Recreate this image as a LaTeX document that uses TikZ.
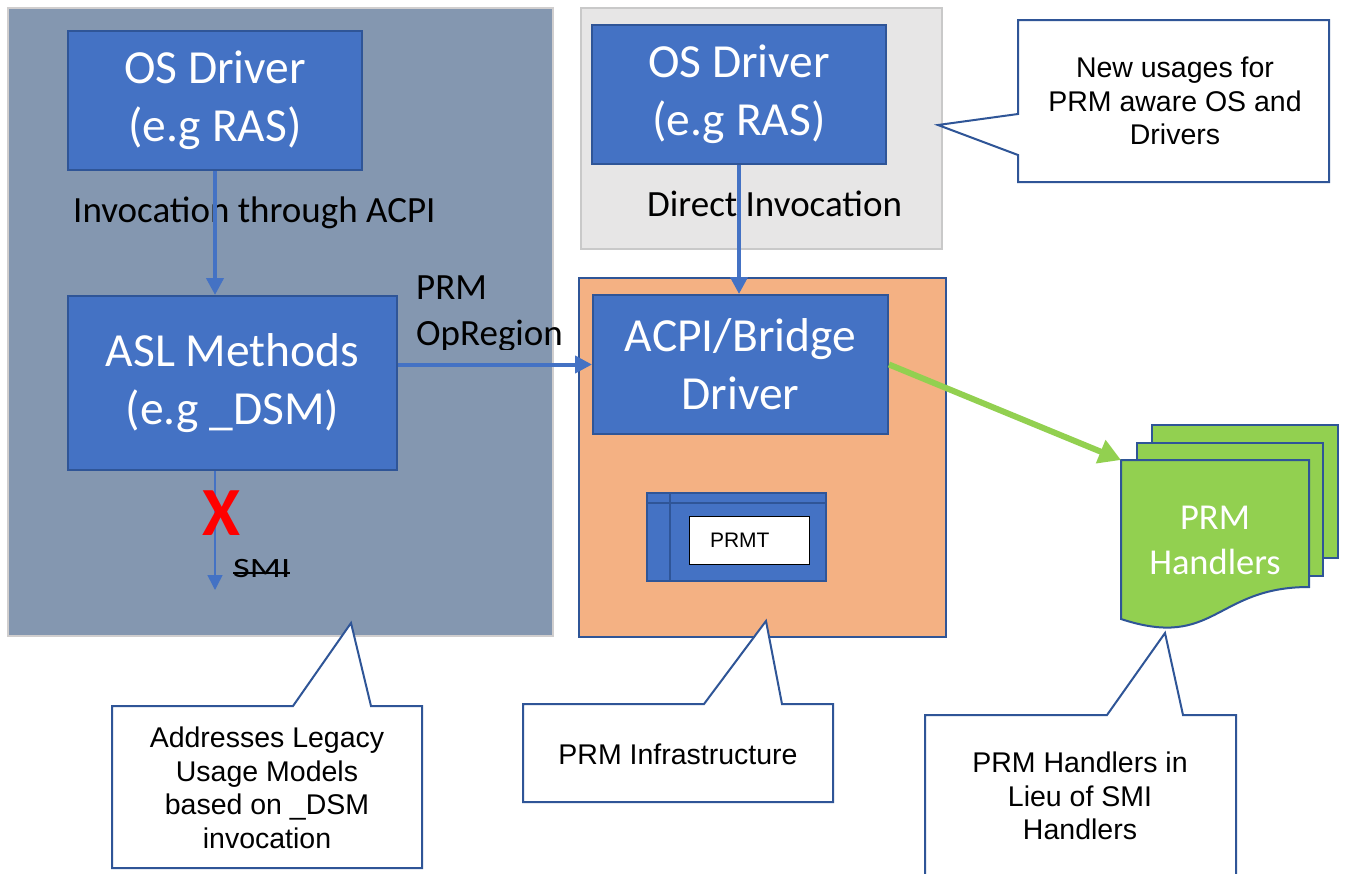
\documentclass[tikz,border=0pt]{standalone}
\usepackage{fontspec}
\setmainfont{Carlito}
\newfontfamily\arialfont{Liberation Sans}
\usetikzlibrary{arrows.meta}
\definecolor{panelgray}{HTML}{8497B0}
\definecolor{panelborder}{HTML}{D0CECE}
\definecolor{lightpanel}{HTML}{E7E6E6}
\definecolor{lightborder}{HTML}{C9C9C9}
\definecolor{orangepanel}{HTML}{F4B183}
\definecolor{boxblue}{HTML}{4472C4}
\definecolor{darkblue}{HTML}{2F5597}
\definecolor{greenfill}{HTML}{92D050}
\tikzset{
  panel/.style={line width=2pt, inner sep=0pt},
  bluebox/.style={draw=darkblue, fill=boxblue, line width=2pt, text=white, inner sep=0pt,
    align=center, font=\fontsize{47.5}{58}\selectfont},
  lbl/.style={inner sep=0pt, text=black, font=\fontsize{37}{46}\selectfont},
  bluearrow/.style={draw=boxblue, line width=4pt, -{Triangle[length=17pt,width=17pt]}},
  calloutshape/.style={draw=darkblue, fill=white, line width=2pt, line join=miter},
  callouttext/.style={inner sep=0pt, align=center, font=\arialfont\fontsize{28.5}{33.5}\selectfont},
  docpage/.style={draw=darkblue, fill=greenfill, line width=2pt, line join=miter},
}
\begin{document}
\begin{tikzpicture}[x=1pt,y=-1pt]
\useasboundingbox (0,0) rectangle (1346,873);
\fill[white] (0,0) rectangle (1346,873);

% panels
\node[panel, draw=panelborder, fill=panelgray, minimum width=545pt, minimum height=628pt] (lp) at (280.5,322) {};
\node[panel, draw=lightborder, fill=lightpanel, minimum width=361pt, minimum height=241pt] (gp) at (761.5,128.5) {};
\node[panel, draw=darkblue, fill=orangepanel, minimum width=367pt, minimum height=359pt] (op) at (762.5,457.5) {};

% blue boxes
\node[bluebox, minimum width=294pt, minimum height=139pt] (osl) at (215,100.5) {OS Driver\\(e.g RAS)};
\node[bluebox, minimum width=294pt, minimum height=139pt] (osr) at (739,94.5) {OS Driver\\(e.g RAS)};
\node[bluebox, minimum width=329pt, minimum height=174pt] (asl) at (232.5,383) {ASL Methods\\(e.g \_DSM)};
\node[bluebox, minimum width=295pt, minimum height=139pt] (acpi) at (740.5,364.5) {ACPI/Bridge\\Driver};

% PRMT table
\node[draw=darkblue, fill=boxblue, line width=2pt, inner sep=0pt, minimum width=179pt, minimum height=88pt] (prmt) at (736.5,537) {};
\draw[darkblue, line width=2pt] ([yshift=-11pt]prmt.north west) -- ([yshift=-11pt]prmt.north east);
\draw[darkblue, line width=2pt] ([xshift=24pt]prmt.north west) -- ([xshift=24pt]prmt.south west);
\node[draw=black, fill=white, line width=1pt, inner xsep=21pt, inner ysep=0pt, text width=78pt, align=left,
  minimum height=48pt, font=\arialfont\fontsize{21}{25}\selectfont] (prmtlbl) at (749,540) {PRMT};

% labels
\node[lbl, anchor=base west] (inv) at (73,222) {Invocation through ACPI};
\node[lbl, anchor=base west] (dinv) at (647,216) {Direct Invocation};
\begin{scope}
  \clip (400,255) rectangle (580,349);
  \node[lbl, anchor=north west, align=left] (opr) at (416,275.5) {PRM\\OpRegion};
\end{scope}

% arrows
\draw[bluearrow] (osl.south) -- (osl.south |- asl.north);
\draw[bluearrow] (osr.south) -- (osr.south |- acpi.north);
\draw[bluearrow] (acpi.west -| asl.east) -- (acpi.west);

% SMI
\coordinate (smiend) at (215,590);
\draw[draw=boxblue, line width=1.5pt, -{Triangle[length=15pt,width=15pt]}] (osl.south |- asl.south) -- (smiend);
\node[inner sep=0pt, text=red, font=\bfseries\fontsize{69}{70}\selectfont] (xmark) at (221,513) {X};
\node[inner sep=0pt, anchor=base west, font=\fontsize{28}{30}\selectfont] (smi) at (233,577) {\scalebox{1.3}[1]{SMI}};
\draw[black, line width=1.3pt] ([yshift=4pt]smi.base west) -- ([yshift=4pt]smi.base east);

% PRM handlers (multi-document)
\draw[docpage] (1152,425) rectangle (1338,558);
\draw[docpage] (1137,443) rectangle (1323,576);
\draw[docpage] (1121,460) -- (1309,460) -- (1309,587) .. controls (1215,587) and (1215,650) .. (1121,619) -- cycle;
\coordinate (doc) at (1121,460);
\node[inner sep=0pt, align=center, text=white, font=\fontsize{36.5}{45}\selectfont] (hand) at (1215,540) {PRM\\Handlers};
\draw[greenfill, line width=6pt, -{Triangle[length=22pt,width=24pt]}] (acpi.east) -- (doc);

% callouts
\draw[calloutshape] (112,706) -- (293,706) -- (351,623) -- (371,706) -- (422,706) -- (422,868) -- (112,868) -- cycle;
\node[callouttext] (c1) at (267,788) {Addresses Legacy\\Usage Models\\based on \_DSM\\invocation};

\draw[calloutshape] (523,704) -- (704,704) -- (766,621) -- (782,704) -- (833,704) -- (833,802) -- (523,802) -- cycle;
\node[callouttext, anchor=base] (c2) at (678,764) {PRM Infrastructure};

\fill[white] (925,715) -- (1107,715) -- (1165,633) -- (1183,715) -- (1236,715) -- (1236,880) -- (925,880) -- cycle;
\draw[calloutshape] (925,880) -- (925,715) -- (1107,715) -- (1165,633) -- (1183,715) -- (1236,715) -- (1236,880);
\node[callouttext] (c3) at (1080,796) {PRM Handlers in\\Lieu of SMI\\Handlers};

\draw[calloutshape] (1018,20) -- (1329,20) -- (1329,182) -- (1018,182) -- (1018,155) -- (938,125) -- (1018,114) -- cycle;
\node[callouttext] (c4) at (1175,101) {New usages for\\PRM aware OS and\\Drivers};
\end{tikzpicture}
\end{document}
